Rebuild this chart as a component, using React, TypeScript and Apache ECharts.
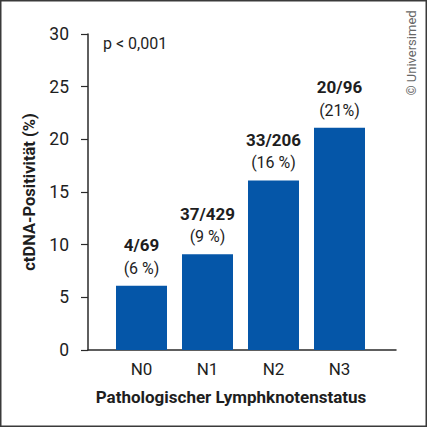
import React, { useEffect, useRef } from "react";
import * as echarts from "echarts";

const categories = ["N0", "N1", "N2", "N3"];
const positivity = [6.1, 9.1, 16.1, 21.1];
const fractions = ["4/69", "37/429", "33/206", "20/96"];
const percentLabels = ["(6 %)", "(9 %)", "(16 %)", "(21%)"];
const yTicks = { min: 0, max: 30, interval: 5 };

const FONT = "Roboto, 'Liberation Sans', sans-serif";
const TEXT = "#1e1e1e";
const BLUE = "#0556a8";

export default function App() {
  const ref = useRef<HTMLDivElement>(null);
  useEffect(() => {
    if (!ref.current) return;
    const chart = echarts.init(ref.current, undefined, { renderer: "svg" });
    chart.setOption({
      animation: false,
      backgroundColor: "#ffffff",
      textStyle: { fontFamily: FONT, color: TEXT },
      grid: [
        { left: 88, right: 31, top: 34, bottom: 77 },
        { left: 108.5, right: 54.5, top: 34, bottom: 77 },
      ],
      xAxis: [
        {
          type: "value",
          gridIndex: 0,
          min: 0,
          max: 1,
          axisLine: { show: true, lineStyle: { color: "#2a2a2a", width: 1.5 } },
          axisTick: { show: false },
          axisLabel: { show: false },
          splitLine: { show: false },
          name: "Pathologischer Lymphknotenstatus",
          nameLocation: "middle",
          nameGap: 38,
          nameTextStyle: {
            fontFamily: FONT,
            fontWeight: "bold",
            fontSize: 17,
            color: TEXT,
            padding: [0, 22, 0, 0],
          },
        },
        {
          type: "category",
          gridIndex: 1,
          data: categories,
          axisLine: { show: false },
          axisTick: { show: false },
          axisLabel: { fontFamily: FONT, fontSize: 17, color: TEXT, margin: 10 },
        },
      ],
      yAxis: [
        {
          type: "value",
          gridIndex: 0,
          min: yTicks.min,
          max: yTicks.max,
          interval: yTicks.interval,
          axisLine: { show: true, lineStyle: { color: "#2a2a2a", width: 1.5 } },
          axisTick: { show: true, length: 7, lineStyle: { color: "#2a2a2a", width: 1.2 } },
          axisLabel: { fontFamily: FONT, fontSize: 17.5, color: TEXT, margin: 19 },
          splitLine: { show: false },
          name: "ctDNA-Positivität (%)",
          nameLocation: "middle",
          nameGap: 48,
          nameTextStyle: { fontFamily: FONT, fontWeight: "bold", fontSize: 16.5, color: TEXT },
        },
        {
          type: "value",
          gridIndex: 1,
          min: yTicks.min,
          max: yTicks.max,
          interval: yTicks.interval,
          show: false,
        },
      ],
      series: [
        {
          type: "bar",
          xAxisIndex: 1,
          yAxisIndex: 1,
          barWidth: 51,
          itemStyle: { color: BLUE },
          data: positivity,
          label: {
            show: true,
            position: "top",
            distance: 6,
            formatter: (p: any) => `{f|${fractions[p.dataIndex]}}\n{p|${percentLabels[p.dataIndex]}}`,
            rich: {
              f: { fontFamily: FONT, fontWeight: "bold", fontSize: 17, color: TEXT, lineHeight: 23 },
              p: { fontFamily: FONT, fontSize: 16, color: TEXT, lineHeight: 23 },
            },
          },
        },
      ],
      graphic: [
        {
          type: "rect",
          shape: { x: 0.75, y: 0.75, width: 425.5, height: 425.5 },
          style: { fill: "none", stroke: "#3a3a3a", lineWidth: 1.5 },
          silent: true,
        },
        {
          type: "text",
          x: 103,
          y: 43,
          style: {
            text: "p < 0,001",
            fontFamily: FONT,
            fontSize: 16,
            fill: TEXT,
            textAlign: "left",
            textVerticalAlign: "middle",
          },
        },
        {
          type: "text",
          x: 411,
          y: 53,
          rotation: Math.PI / 2,
          style: {
            text: "© Universimed",
            fontFamily: FONT,
            fontSize: 13,
            fill: "#666666",
            textAlign: "center",
            textVerticalAlign: "middle",
          },
        },
      ],
    });
    return () => chart.dispose();
  }, []);
  return (
    <div
      ref={ref}
      style={{ position: "absolute", left: 0, top: 0, width: 427, height: 427 }}
    />
  );
}
